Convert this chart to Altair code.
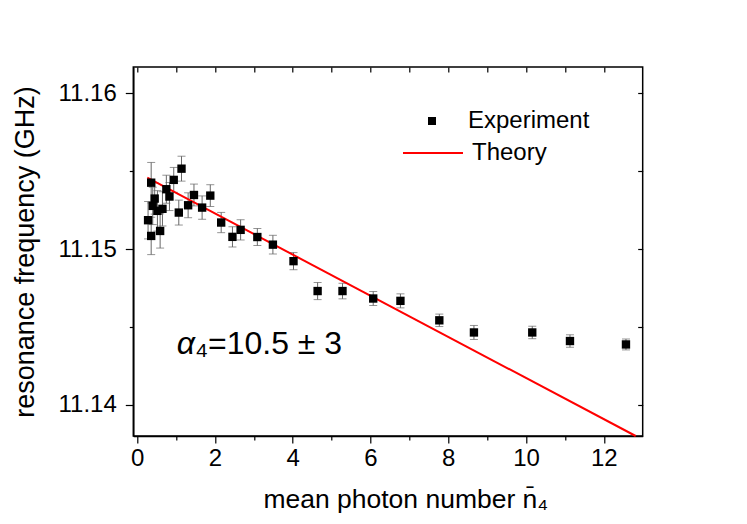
import altair as alt
import pandas as pd

# ---- data ----
photon_n = [0.28, 0.36, 0.36, 0.40, 0.45, 0.52, 0.59, 0.65, 0.75, 0.83, 0.94, 1.07,
            1.14, 1.31, 1.46, 1.67, 1.88, 2.16, 2.45, 2.66, 3.09, 3.49, 4.02, 4.64,
            5.28, 6.07, 6.77, 7.77, 8.66, 10.16, 11.13, 12.57]
freq_ghz = [11.15186, 11.15427, 11.15085, 11.15278, 11.15325, 11.15246, 11.15117,
            11.15259, 11.15385, 11.15338, 11.15445, 11.15235, 11.15517, 11.15282,
            11.15348, 11.15267, 11.15344, 11.15171, 11.15079, 11.15124, 11.15078,
            11.15029, 11.14923, 11.14731, 11.14731, 11.14683, 11.14668, 11.14543,
            11.14465, 11.14465, 11.14410, 11.14388]
freq_err = [0.0012, 0.0013, 0.0012, 0.0012, 0.0010, 0.0013, 0.0011, 0.0011, 0.0009,
            0.0009, 0.0008, 0.0008, 0.0008, 0.0008, 0.0007, 0.00075, 0.0007, 0.00065,
            0.00065, 0.00065, 0.00055, 0.0006, 0.00055, 0.00055, 0.0005, 0.00045,
            0.00045, 0.0004, 0.00045, 0.0004, 0.0004, 0.00035]

theory_n = [0.26, 12.82]
theory_f = [11.15459, 11.13800]

x_ticks = [0, 1, 2, 3, 4, 5, 6, 7, 8, 9, 10, 11, 12]
y_ticks = [11.14, 11.145, 11.15, 11.155, 11.16]

ann_x = [1.485]
ann_y = [11.14328]

FONT = "Liberation Sans"

exp_df = pd.DataFrame({
    "n": photon_n,
    "f": freq_ghz,
    "lo": [f - e for f, e in zip(freq_ghz, freq_err)],
    "hi": [f + e for f, e in zip(freq_ghz, freq_err)],
    "exp": ["Experiment"] * len(photon_n),
})
th_df = pd.DataFrame({"n": theory_n, "f": theory_f, "theo": ["Theory"] * 2})
ann_df = pd.DataFrame({"n": ann_x, "f": ann_y})

xs = alt.Scale(domain=[-0.1, 13.0], nice=False, zero=False)
ys = alt.Scale(domain=[11.138, 11.1617], nice=False, zero=False)

x_major_test = "datum.value % 2 === 0"
y_major_test = "abs(datum.value * 100 - round(datum.value * 100)) < 0.01"

x_axis = alt.Axis(values=x_ticks, labelPadding=4, labelFontSize=24,
                  tickSize={"condition": {"test": x_major_test, "value": 7}, "value": 4},
                  labelExpr=f"({x_major_test}) ? datum.label : ''",
                  grid=False, orient="bottom",
                  title="mean photon number n\u0304\u2084", titleFontSize=26.5,
                  titleFontWeight="normal", titleBaseline="alphabetic", titleY=72,
                  titleX=272, titleAlign="center",
                  labelFont=FONT, titleFont=FONT)
y_axis = alt.Axis(values=y_ticks, format=".2f", labelPadding=9,
                  tickSize={"condition": {"test": y_major_test, "value": 8}, "value": 4},
                  labelExpr=f"({y_major_test}) ? datum.label : ''",
                  grid=False, orient="left",
                  labelFontSize=24, title="resonance frequency (GHz)", titleFontSize=27,
                  titleFontWeight="normal", titleBaseline="alphabetic", titleX=-100,
                  labelFont=FONT, titleFont=FONT)

X = lambda f: alt.X(f, scale=xs, axis=None)
Y = lambda f: alt.Y(f, scale=ys, axis=None)

bars = alt.Chart(exp_df).mark_rule(color="#666666", strokeWidth=1).encode(
    x=alt.X("n:Q", scale=xs, axis=x_axis),
    y=alt.Y("lo:Q", scale=ys, axis=y_axis),
    y2="hi:Q",
)

# mirrored axes (top / right) with inward ticks, no labels
mirror = alt.Chart(exp_df).mark_point(opacity=0).encode(
    x=alt.X("n:Q", scale=xs, axis=alt.Axis(
        values=x_ticks, orient="top", labels=False, domain=False, title=None, grid=False,
        offset=-5, tickSize=5)),
    y=alt.Y("f:Q", scale=ys, axis=alt.Axis(
        values=y_ticks, orient="right", labels=False, domain=False, title=None, grid=False,
        offset=-5, tickSize=5)),
)

cap_lo = alt.Chart(exp_df).mark_tick(orient="horizontal", size=8, thickness=1,
                                     color="#666666").encode(x=X("n:Q"), y=Y("lo:Q"))
cap_hi = alt.Chart(exp_df).mark_tick(orient="horizontal", size=8, thickness=1,
                                     color="#666666").encode(x=X("n:Q"), y=Y("hi:Q"))

points = alt.Chart(exp_df).mark_point(filled=True, color="black", opacity=1,
                                      size=70).encode(
    x=X("n:Q"),
    y=Y("f:Q"),
    shape=alt.Shape("exp:N", scale=alt.Scale(domain=["Experiment"], range=["square"]),
                    legend=alt.Legend(title=None, orient="none", legendX=286.7,
                                      legendY=42, symbolSize=64, symbolFillColor="black",
                                      symbolStrokeColor="black", symbolStrokeWidth=0,
                                      labelFontSize=24, labelFont=FONT, labelOffset=24,
                                      padding=0)),
)

theory = alt.Chart(th_df).mark_line(strokeWidth=2).encode(
    x=X("n:Q"),
    y=Y("f:Q"),
    color=alt.Color("theo:N", scale=alt.Scale(domain=["Theory"], range=["#ff0000"]),
                    legend=alt.Legend(title=None, orient="none", legendX=268.7,
                                      legendY=55, symbolType="stroke", symbolSize=3600,
                                      symbolStrokeWidth=2, labelFontSize=24,
                                      labelFont=FONT, labelOffset=8, padding=0)),
)

alpha_txt = alt.Chart(ann_df).mark_text(text="\u03b1", fontStyle="italic", fontSize=32,
                                        font=FONT, align="right",
                                        baseline="alphabetic", color="black").encode(
    x=X("n:Q"), y=Y("f:Q"))
rest_txt = alt.Chart(ann_df).mark_text(text="\u2084=10.5 \u00b1 3", fontSize=32,
                                       font=FONT, align="left", baseline="alphabetic",
                                       color="black").encode(x=X("n:Q"), y=Y("f:Q"))

chart = alt.layer(bars, mirror, cap_lo, cap_hi, theory, points, alpha_txt, rest_txt).resolve_axis(
    x="independent", y="independent"
).resolve_legend(shape="independent", color="independent").properties(
    width=509.4, height=369,
    autosize=alt.AutoSizeParams(type="none"),
    padding={"left": 125.3, "top": 59, "right": 96, "bottom": 80},
).configure(background="white").configure_view(
    stroke="#000000", strokeWidth=1.5
).configure_axis(
    grid=False, domainColor="#000000", domainWidth=1.5, tickColor="#000000",
    tickWidth=1.2, labelColor="black", titleColor="black"
)

chart.save("out.html", embed_options={"renderer": "svg", "actions": False})
